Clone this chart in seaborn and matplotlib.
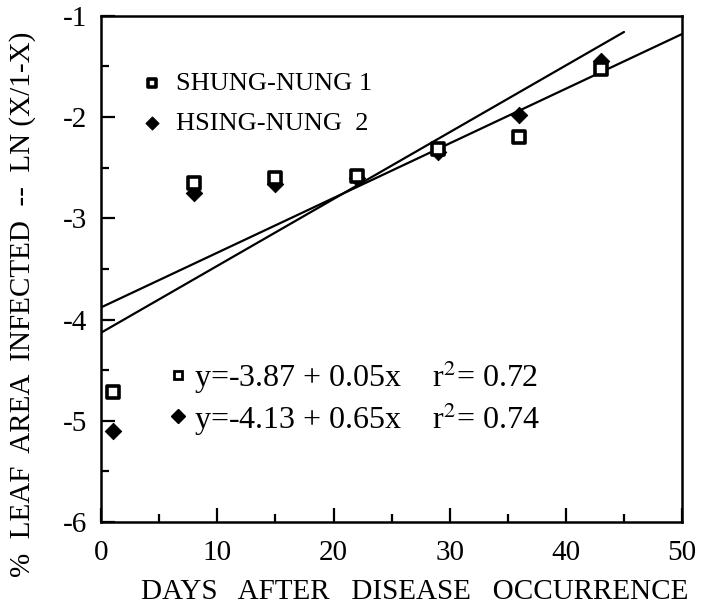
import numpy as np
import pandas as pd
import matplotlib
matplotlib.use("Agg")
import matplotlib.pyplot as plt
import seaborn as sns

# data
days = [1, 8, 15, 22, 29, 36, 43]
shung_nung = [-4.72, -2.65, -2.60, -2.58, -2.32, -2.20, -1.53]
hsing_nung = [-5.10, -2.75, -2.66, -2.60, -2.35, -1.98, -1.45]

# fitted lines as drawn (intercept, slope, end of line)
fit_intercept = [-3.88, -4.13]
fit_slope = [0.054, 0.066]
fit_end = [50, 45]

varieties = ["SHUNG-NUNG 1", "HSING-NUNG  2"]
equations = ["y=-3.87 + 0.05x    r$^{2}$= 0.72",
             "y=-4.13 + 0.65x    r$^{2}$= 0.74"]

sns.set_style("ticks")
plt.rcParams['font.family'] = ['Liberation Serif', 'DejaVu Serif']
plt.rcParams['mathtext.fontset'] = 'stix'
plt.rcParams['axes.unicode_minus'] = False
for k in ['text.color', 'axes.labelcolor', 'xtick.color', 'ytick.color', 'axes.edgecolor']:
    plt.rcParams[k] = 'black'

df = pd.DataFrame({
    "day": days * 2,
    "value": shung_nung + hsing_nung,
    "variety": [varieties[0]] * len(days) + [varieties[1]] * len(days),
})

fig = plt.figure(figsize=(7.12, 6.07), dpi=100)
ax = fig.add_axes([0.142, 0.14, 0.816, 0.834])

# regression lines
for b0, b1, xe in zip(fit_intercept, fit_slope, fit_end):
    lx = [0, xe]
    ly = [b0 + b1 * v for v in lx]
    sns.lineplot(x=lx, y=ly, color="black", linewidth=1.6, ax=ax)

sns.scatterplot(data=df[df.variety == varieties[1]], x="day", y="value",
                marker="D", s=70, color="black", edgecolor="black", ax=ax,
                label=varieties[1], zorder=3)
sns.scatterplot(data=df[df.variety == varieties[0]], x="day", y="value",
                marker="s", s=65, facecolor="white", edgecolor="black",
                linewidth=2.6, ax=ax, label=varieties[0], zorder=4)

ax.set_xlim(0, 50)
ax.set_ylim(-6, -1)
ax.set_xticks(np.arange(0, 51, 10))
ax.set_xticks(np.arange(0, 51, 5), minor=True)
ax.set_yticks(np.arange(-6, -0.9, 1))
ax.set_yticks(np.arange(-6, -0.9, 0.5), minor=True)
ax.tick_params(which="both", direction="in", width=1.6, labelsize=21,
               top=False, right=False)
ax.tick_params(axis="x", which="both", pad=13)
ax.tick_params(axis="y", which="both", pad=10)
ax.tick_params(which="major", length=10)
ax.tick_params(which="minor", length=6)
for s in ax.spines.values():
    s.set_visible(True)
    s.set_linewidth(1.8)

ax.set_xlabel("DAYS   AFTER   DISEASE   OCCURRENCE", fontsize=21)
ax.xaxis.set_label_coords(0.54, -0.112)
ax.set_ylabel("%  LEAF  AREA  INFECTED  --  LN (X/1-X)", fontsize=21)
ax.yaxis.set_label_coords(-0.112, 0.43)

handles, labels = ax.get_legend_handles_labels()
order = [labels.index(v) for v in varieties]
ax.legend([handles[i] for i in order], [labels[i] for i in order],
          loc="upper left", bbox_to_anchor=(0.02, 0.936), frameon=False,
          fontsize=19, handletextpad=0.3, labelspacing=0.6, markerscale=0.8,
          handlelength=1.2)

# equations
ax.plot([0.133], [0.29], marker="s", ms=6, mfc="white", mec="black", mew=2,
        transform=ax.transAxes, clip_on=False)
ax.plot([0.133], [0.21], marker="D", ms=7, color="black",
        transform=ax.transAxes, clip_on=False)
ax.text(0.16, 0.287, equations[0], transform=ax.transAxes, fontsize=23,
        va="center", ha="left")
ax.text(0.16, 0.204, equations[1], transform=ax.transAxes, fontsize=23,
        va="center", ha="left")

fig.savefig("out.png", dpi=100)
